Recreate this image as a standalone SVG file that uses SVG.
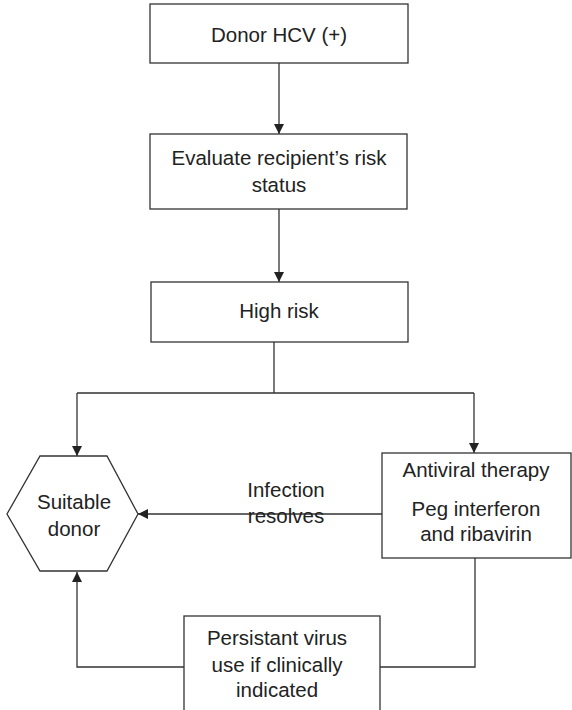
<svg xmlns="http://www.w3.org/2000/svg" width="572" height="710" viewBox="0 0 572 710">
<style>
.box{fill:#fff;stroke:#333;stroke-width:1.3}
.ln{fill:none;stroke:#333;stroke-width:1.3}
text{font-family:"Liberation Sans",Arial,sans-serif;font-size:20.5px;fill:#222;text-anchor:middle}
</style>
<defs>
<marker id="ah" viewBox="0 0 10 10" refX="10" refY="5" markerWidth="10" markerHeight="10" markerUnits="userSpaceOnUse" orient="auto">
<path d="M0,0 L10,5 L0,10 Z" fill="#222"/>
</marker>
</defs>
<rect width="572" height="710" fill="#fff"/>
<g id="connectors">
<path class="ln" d="M279,63 V134" marker-end="url(#ah)"/>
<path class="ln" d="M279,209 V282" marker-end="url(#ah)"/>
<path class="ln" d="M274,342 V393 M77,393 H474"/>
<path class="ln" d="M77,393 V456" marker-end="url(#ah)"/>
<path class="ln" d="M474,393 V453" marker-end="url(#ah)"/>
<path class="ln" d="M382,514 H138" marker-end="url(#ah)"/>
<path class="ln" d="M475,558 V667 H380"/>
<path class="ln" d="M184,667 H77 V572" marker-end="url(#ah)"/>
</g>
<g id="donor">
<rect class="box" x="150" y="4" width="258" height="59"/>
<text x="279" y="42">Donor HCV (+)</text>
</g>
<g id="evaluate">
<rect class="box" x="150" y="134" width="257" height="75"/>
<text x="279" y="165">Evaluate recipient’s risk</text>
<text x="279" y="192">status</text>
</g>
<g id="highrisk">
<rect class="box" x="151" y="282" width="257" height="60"/>
<text x="279" y="318">High risk</text>
</g>
<g id="suitable">
<polygon class="box" points="40,456 107,456 138,514 107,571 40,571 7,514"/>
<text x="74" y="509">Suitable</text>
<text x="74" y="536">donor</text>
</g>
<g id="antiviral">
<rect class="box" x="382" y="453" width="189" height="105"/>
<text x="476" y="477">Antiviral therapy</text>
<text x="476" y="516">Peg interferon</text>
<text x="476" y="541">and ribavirin</text>
</g>
<g id="infection-label">
<text x="286" y="497">Infection</text>
<text x="286" y="523">resolves</text>
</g>
<g id="persistent">
<rect class="box" x="184" y="616" width="196" height="100"/>
<text x="277" y="645">Persistant virus</text>
<text x="277" y="672">use if clinically</text>
<text x="277" y="697">indicated</text>
</g>
</svg>
